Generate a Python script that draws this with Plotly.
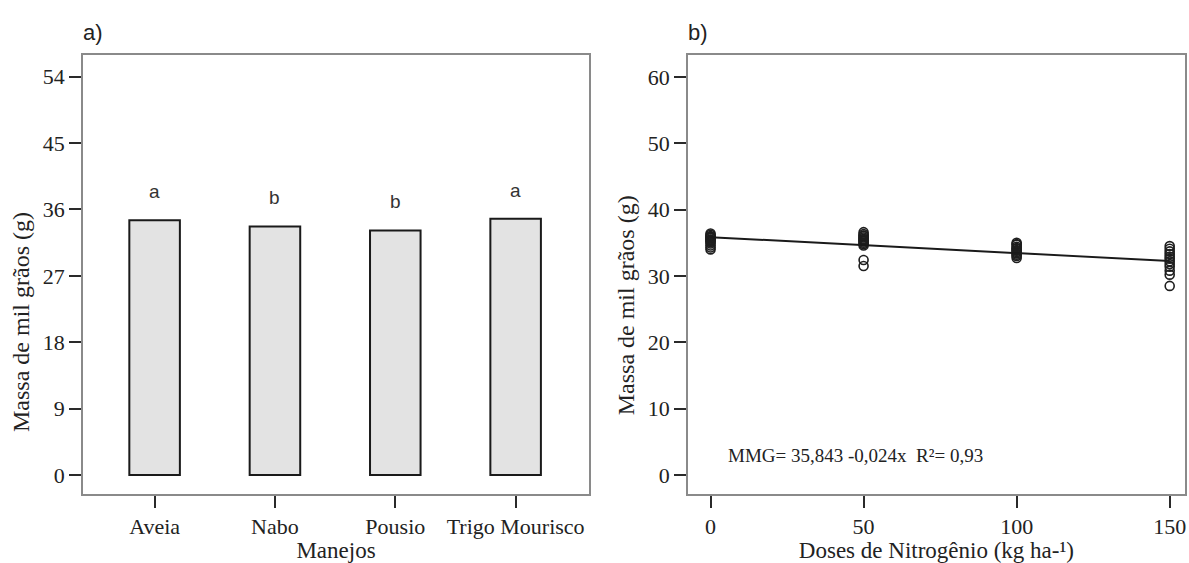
import plotly.graph_objects as go

# ---- Data ----
manejos = ["Aveia", "Nabo", "Pousio", "Trigo Mourisco"]
massa_manejos = [34.55, 33.7, 33.16, 34.73]
letras = ["a", "b", "b", "a"]

doses_0 = [36.4, 36.2, 36.0, 35.9, 35.8, 35.7, 35.5, 35.4, 35.3, 35.1, 34.9, 34.6, 34.3, 34.0]
doses_50 = [36.6, 36.3, 36.1, 36.0, 35.8, 35.6, 35.5, 35.4, 35.2, 35.0, 34.8, 34.6, 32.4, 31.5]
doses_100 = [35.0, 34.8, 34.7, 34.4, 34.2, 34.1, 33.9, 33.8, 33.6, 33.4, 33.2, 33.0, 32.7]
doses_150 = [34.5, 34.1, 33.7, 33.3, 32.9, 32.6, 32.2, 31.8, 31.4, 30.8, 30.2, 28.5]
dose_levels = [0, 50, 100, 150]
trend_x = [0, 150]
trend_y = [35.843, 32.243]
equacao = "MMG= 35,843 -0,024x  R²= 0,93"

left_yticks = [0, 9, 18, 27, 36, 45, 54]
right_yticks = [0, 10, 20, 30, 40, 50, 60]
right_xticks = [0, 50, 100, 150]

SERIF = "Liberation Serif, Times New Roman, serif"
SANS = "Liberation Sans, Arial, sans-serif"
TXT = "#222222"

fig = go.Figure()

fig.add_trace(go.Bar(
    x=manejos, y=massa_manejos, width=0.42,
    marker=dict(color="#e3e3e3", line=dict(color="#1a1a1a", width=2)),
    xaxis="x", yaxis="y", showlegend=False,
))

all_doses = [doses_0, doses_50, doses_100, doses_150]
sx, sy = [], []
for d, vals in zip(dose_levels, all_doses):
    for v in vals:
        sx.append(d)
        sy.append(v)

fig.add_trace(go.Scatter(
    x=sx, y=sy, mode="markers",
    marker=dict(symbol="circle-open", size=9, color="#1e1e1e", line=dict(width=1.6)),
    xaxis="x2", yaxis="y2", showlegend=False,
))
fig.add_trace(go.Scatter(
    x=trend_x, y=trend_y, mode="lines",
    line=dict(color="#1a1a1a", width=2),
    xaxis="x2", yaxis="y2", showlegend=False,
))

annotations = []
for m, v, l in zip(manejos, massa_manejos, letras):
    annotations.append(dict(
        x=m, y=v, xref="x", yref="y", text=l, showarrow=False,
        yanchor="bottom", yshift=16, font=dict(family=SANS, size=19, color="#333333"),
    ))
annotations.append(dict(
    x=0, y=1, xref="x domain", yref="y domain", text="a)", showarrow=False,
    xanchor="left", yanchor="bottom", yshift=8, xshift=-2,
    font=dict(family=SANS, size=22, color=TXT),
))
annotations.append(dict(
    x=0, y=1, xref="x2 domain", yref="y2 domain", text="b)", showarrow=False,
    xanchor="left", yanchor="bottom", yshift=8, xshift=-2,
    font=dict(family=SANS, size=22, color=TXT),
))
annotations.append(dict(
    x=5.2, y=3.0, xref="x2", yref="y2", text=equacao, showarrow=False,
    xanchor="left", yanchor="middle",
    font=dict(family=SERIF, size=19, color=TXT),
))
# y-axis titles (placed as rotated text)
annotations.append(dict(
    x=-0.0562, y=0.392, xref="paper", yref="paper", text="Massa de mil grãos (g)",
    showarrow=False, textangle=-90, xanchor="center", yanchor="middle",
    font=dict(family=SERIF, size=24, color=TXT),
))
annotations.append(dict(
    x=0.4928, y=0.43, xref="paper", yref="paper", text="Massa de mil grãos (g)",
    showarrow=False, textangle=-90, xanchor="center", yanchor="middle",
    font=dict(family=SERIF, size=24, color=TXT),
))

axis_common = dict(
    showline=True, mirror=True, linecolor="#8a8a8a", linewidth=1.5,
    ticks="outside", ticklen=12, tickwidth=2, tickcolor="#2a2a2a",
    showgrid=False, zeroline=False,
    tickfont=dict(family=SERIF, size=22, color=TXT),
)

fig.update_layout(
    width=1189, height=563,
    margin=dict(l=83, r=2, t=55, b=69),
    plot_bgcolor="white", paper_bgcolor="white",
    annotations=annotations,
    xaxis=dict(
        domain=[0, 0.4592], type="category", range=[-0.595, 3.61],
        title=dict(text="Manejos", font=dict(family=SERIF, size=23, color=TXT), standoff=0),
        anchor="y", **axis_common,
    ),
    yaxis=dict(
        domain=[0, 1], range=[-2.58, 56.94], tickvals=left_yticks,
        anchor="x", **axis_common,
    ),
    xaxis2=dict(
        domain=[0.5489, 1], range=[-7.4, 155], tickvals=right_xticks,
        title=dict(text="Doses de Nitrogênio (kg ha-¹)", font=dict(family=SERIF, size=23, color=TXT), standoff=0),
        anchor="y2", **axis_common,
    ),
    yaxis2=dict(
        domain=[0, 1], range=[-2.86, 63.3], tickvals=right_yticks,
        anchor="x2", **axis_common,
    ),
)

fig.write_html("out.html")
